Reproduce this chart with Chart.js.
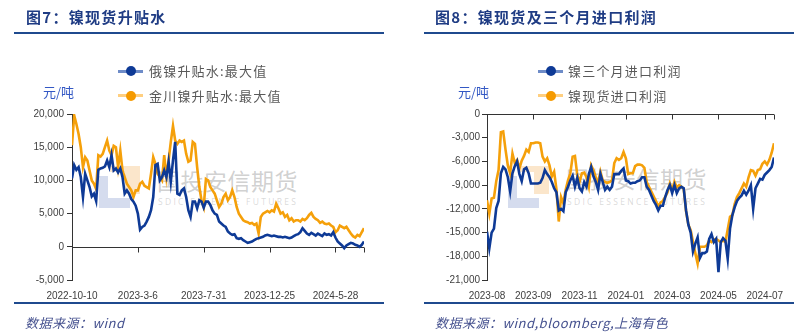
<!DOCTYPE html>
<html>
<head>
<meta charset="utf-8">
<script src="https://cdn.jsdelivr.net/npm/chart.js@4.4.1/dist/chart.umd.min.js"></script>
<style>
html,body{margin:0;padding:0;background:#fff;}
body{width:804px;height:335px;position:relative;overflow:hidden;font-family:"Noto Sans CJK SC",sans-serif;}
.abs{position:absolute;white-space:nowrap;}
.title{font-size:15px;font-weight:bold;color:#1f3c84;letter-spacing:1.3px;line-height:20px;}
.rule{height:1.5px;background:#1f4a8e;width:370px;}
.src{font-size:13px;font-style:italic;color:#44508e;letter-spacing:0.5px;line-height:18px;}
.unit{font-size:13px;color:#3358c4;line-height:16px;}
.leg{font-size:13px;color:#595959;letter-spacing:1.2px;line-height:16px;}
.mk{position:absolute;width:25px;height:3px;}
.dot{position:absolute;width:10px;height:10px;border-radius:50%;}
canvas{position:absolute;top:0;}
.wm{color:rgba(150,150,150,0.45);font-size:23px;letter-spacing:0.5px;line-height:28px;}
.wm2{color:rgba(160,160,160,0.4);font-size:8.5px;letter-spacing:2.3px;line-height:10px;font-family:"Open Sans",sans-serif;}
.lb{position:absolute;background:#d5dcee;}
.lo{position:absolute;background:#fbe6cb;}
</style>
</head>
<body>
<!-- watermark (under the charts) -->
<div class="lb" style="left:99px;top:176px;width:9px;height:32px"></div>
<div class="lb" style="left:99px;top:198px;width:31px;height:10px"></div>
<div class="lo" style="left:110px;top:166px;width:30px;height:6px"></div>
<div class="lo" style="left:125px;top:166px;width:15px;height:28px"></div>
<div class="abs wm" style="left:157px;top:166px">国投安信期货</div>
<div class="abs wm2" style="left:158px;top:197px">SDIC ESSENCE FUTURES</div>

<div class="lb" style="left:508px;top:176px;width:9px;height:32px"></div>
<div class="lb" style="left:508px;top:198px;width:31px;height:10px"></div>
<div class="lo" style="left:519px;top:166px;width:30px;height:6px"></div>
<div class="lo" style="left:534px;top:166px;width:15px;height:28px"></div>
<div class="abs wm" style="left:566px;top:164px">国投安信期货</div>
<div class="abs wm2" style="left:567px;top:197px">SDIC ESSENCE FUTURES</div>

<canvas id="c1" width="400" height="335" style="left:0px"></canvas>
<canvas id="c2" width="404" height="335" style="left:400px"></canvas>

<!-- left panel texts -->
<div class="abs title" style="left:26px;top:7px">图7：镍现货升贴水</div>
<div class="abs rule" style="left:14px;top:32px"></div>
<div class="abs rule" style="left:14px;top:302px"></div>
<div class="abs src" style="left:25px;top:314px">数据来源：wind</div>
<div class="abs unit" style="left:43px;top:84px">元/吨</div>
<div class="mk" style="left:118px;top:69.5px;background:#6e8cc8"></div>
<div class="dot" style="left:125.5px;top:66px;background:#0e3a96"></div>
<div class="abs leg" style="left:149px;top:63px">俄镍升贴水:最大值</div>
<div class="mk" style="left:118px;top:94px;background:#ffcf80"></div>
<div class="dot" style="left:125.5px;top:90.5px;background:#f59a00"></div>
<div class="abs leg" style="left:149px;top:87.5px">金川镍升贴水:最大值</div>

<!-- right panel texts -->
<div class="abs title" style="left:435px;top:7px">图8：镍现货及三个月进口利润</div>
<div class="abs rule" style="left:424px;top:32px"></div>
<div class="abs rule" style="left:424px;top:302px"></div>
<div class="abs src" style="left:435px;top:314px">数据来源：wind,bloomberg,上海有色</div>
<div class="abs unit" style="left:458px;top:84px">元/吨</div>
<div class="mk" style="left:538px;top:69.5px;background:#6e8cc8"></div>
<div class="dot" style="left:545.7px;top:66px;background:#0e3a96"></div>
<div class="abs leg" style="left:568px;top:63px">镍三个月进口利润</div>
<div class="mk" style="left:538px;top:94px;background:#ffcf80"></div>
<div class="dot" style="left:545.7px;top:90.5px;background:#f59a00"></div>
<div class="abs leg" style="left:568px;top:87.5px">镍现货进口利润</div>

<script>
// ---------- Figure 7: nickel spot premium/discount (yuan/t), sampled every ~3.3 trading days ----------
const fig7TickLabels = ['2022-10-10','2023-3-6','2023-7-31','2023-12-25','2024-5-28',''];
const fig7TickIdx = [0,30,60,90,120,133];
const ruNiPremium = [
 10300,12300,11600,12000,10500,7500,11000,10000,9000,7600,
 8000,6900,11600,11800,11900,12100,13000,12000,13800,11500,
 11800,11200,11800,10500,8000,8500,8000,7200,6800,6200,
 5000,2600,3000,3200,3800,4500,5500,7500,12300,12500,
 10000,10500,11500,10500,12800,9800,13000,15800,8000,7800,
 8500,8800,7500,5500,4500,6800,6800,5800,7000,6800,
 5900,6800,6800,6300,5500,5000,4800,3800,3500,3200,
 3000,2300,2000,1800,1900,1300,1200,1300,1000,800,
 600,700,800,1000,1200,1300,1400,1500,1700,1800,
 1700,1600,1700,1600,1500,1500,1400,1500,1400,1300,
 1400,1600,1800,1900,2200,2800,2400,2000,1800,2100,
 1900,1700,2000,1800,1600,2000,1800,1900,1700,2200,
 1400,800,500,200,-200,200,400,600,500,300,
 200,0,300,800];
const jcNiPremium = [
 15300,19800,18500,17000,15000,12000,13500,13000,11500,10000,
 9500,8700,13800,13600,14000,15000,16000,14500,13800,15200,
 15000,12000,14500,11500,10500,9500,9000,8500,7500,8500,
 8500,9500,9800,9200,9000,8800,11000,13500,12500,11000,
 10500,10000,13800,10500,13000,15800,18200,16000,15500,16000,
 15800,16000,14000,12800,13000,15800,15500,12000,9000,7000,
 6000,10200,10000,9000,8500,8000,7000,6000,6500,7500,
 8000,7000,7500,8500,7500,6000,5000,4500,4000,3800,
 3700,3500,3600,3300,3500,2000,4500,5000,5200,5400,
 5200,5500,5300,6500,5800,5000,5200,4500,4800,4000,
 4300,3800,4000,4000,3800,4200,4000,4300,4800,5100,
 4500,4200,4000,3600,3800,3500,3400,3500,3200,3000,
 2200,2500,3200,3000,2800,3000,2500,2000,1600,1400,
 1800,1600,2200,2800];

// ---------- Figure 8: nickel import profit (yuan/t), sampled every ~2 trading days ----------
const fig8TickLabels = ['2023-08','2023-09','2023-11','2024-01','2024-03','2024-05','2024-07',''];
const fig8TickIdx = [0,20,40,60,80,100,120,124];
const threeMonthProfit = [
 -14900,-17000,-15000,-14500,-11900,-11000,-7500,-6700,-7000,-8000,
 -9800,-7500,-6600,-6000,-7600,-8500,-7000,-6800,-7500,-8800,
 -8800,-8800,-8800,-8700,-8100,-7100,-7600,-8000,-8600,-9400,
 -9900,-12200,-12000,-12300,-9900,-9200,-8400,-7800,-9200,-8100,
 -9400,-9800,-8600,-9200,-7600,-6700,-7900,-8600,-9600,-7600,
 -8600,-9600,-9200,-9600,-9200,-7600,-7600,-7600,-7200,-6900,
 -8400,-8500,-8800,-8700,-8700,-8500,-8400,-8000,-8000,-9200,
 -9600,-10300,-11000,-11500,-12200,-11600,-11600,-10500,-9600,-9000,
 -10000,-9000,-10000,-9400,-9200,-9400,-12200,-14000,-15000,-17400,
 -16400,-15600,-18200,-17600,-17600,-17400,-15800,-15200,-16200,-15800,
 -20000,-16200,-15700,-16000,-18300,-14500,-12800,-11800,-11000,-10600,
 -10300,-9700,-10200,-9700,-9000,-12000,-9400,-8800,-8200,-8300,
 -7700,-7400,-7100,-6700,-5500];
const spotProfit = [
 -10900,-12600,-10700,-10600,-8500,-7100,-2300,-2200,-4500,-6500,
 -7500,-5000,-6200,-5800,-6900,-5900,-5300,-4500,-4800,-3700,
 -3700,-3600,-3600,-3700,-5400,-6000,-5600,-6500,-7900,-7300,
 -9500,-13600,-10500,-11300,-9600,-8400,-7500,-5400,-5300,-7700,
 -8600,-7500,-7400,-8000,-9200,-6500,-7100,-8000,-8800,-7300,
 -8400,-8600,-8700,-8600,-8400,-6200,-5600,-5800,-5600,-4800,
 -5600,-7600,-7500,-7500,-6600,-6400,-6400,-6500,-6800,-8600,
 -9200,-9800,-10400,-11000,-11700,-11200,-11000,-10500,-9900,-8800,
 -9600,-8600,-9300,-9000,-9200,-9500,-12300,-14000,-14700,-16200,
 -17600,-18900,-16800,-16800,-16800,-16600,-16000,-16200,-15900,-15800,
 -16000,-16200,-16000,-16200,-14600,-13000,-12800,-11400,-10500,-10000,
 -9400,-8800,-9200,-8000,-7100,-7200,-7800,-7100,-7000,-6300,
 -6000,-6400,-5800,-4900,-3700];

const BLUE = '#0e3a96', ORANGE = '#f5a00a';
const AXIS = '#333333', TICKTXT = '#404040';

function pts(arr){ return arr.map((v,i)=>({x:i,y:v})); }

// x-axis line drawn at value 0 with downward tick marks
const zeroAxis = {
  id:'zeroAxis',
  beforeDatasetsDraw(chart){
    const {ctx, chartArea:a, scales:{x,y}} = chart;
    const py = Math.round(y.getPixelForValue(0)) + 0.5;
    ctx.save();
    ctx.strokeStyle = AXIS; ctx.lineWidth = 1;
    ctx.beginPath();
    ctx.moveTo(a.left, py); ctx.lineTo(a.right, py);
    x.ticks.forEach(t=>{
      const px = Math.round(x.getPixelForValue(t.value)) + 0.5;
      ctx.moveTo(px, py); ctx.lineTo(px, py + 5);
    });
    ctx.stroke();
    ctx.restore();
  }
};

function makeChart(id, cfg){
  return new Chart(document.getElementById(id), {
    type:'line',
    data:{datasets:[
      {label:cfg.names[0], data:pts(cfg.s1), borderColor:BLUE, borderWidth:2.6, pointRadius:0, tension:0},
      {label:cfg.names[1], data:pts(cfg.s2), borderColor:ORANGE, borderWidth:2.6, pointRadius:0, tension:0}
    ]},
    options:{
      responsive:false, animation:false, devicePixelRatio:1,
      layout:{padding:{left:0, right:cfg.padRight, top:114, bottom:0}},
      plugins:{legend:{display:false}, tooltip:{enabled:false}},
      scales:{
        x:{
          type:'linear', min:0, max:cfg.tickIdx[cfg.tickIdx.length-1],
          afterBuildTicks:s=>{ s.ticks = cfg.tickIdx.map(v=>({value:v})); },
          afterFit:s=>{ s.height = 55; },
          grid:{display:false}, border:{display:false},
          ticks:{autoSkip:false, maxRotation:0, minRotation:0, padding:2, color:TICKTXT,
            font:{family:'"Liberation Sans", Arial, sans-serif', size:10},
            callback:(v)=>{ const k = cfg.tickIdx.indexOf(v); return k>=0 ? cfg.tickLabels[k] : ''; }}
        },
        y:{
          min:cfg.yMin, max:cfg.yMax,
          afterFit:s=>{ s.width = cfg.yWidth; },
          grid:{drawOnChartArea:false, drawTicks:true, tickLength:5, tickColor:AXIS, color:AXIS},
          border:{display:true, color:AXIS, width:1},
          ticks:{stepSize:cfg.step, padding:cfg.labPad, color:TICKTXT,
            font:{family:'"Liberation Sans", Arial, sans-serif', size:10},
            callback:v=>Number(v).toLocaleString('en-US')}
        }
      }
    },
    plugins:[zeroAxis]
  });
}

makeChart('c1', {names:['俄镍升贴水:最大值','金川镍升贴水:最大值'], s1:ruNiPremium, s2:jcNiPremium,
  tickIdx:fig7TickIdx, tickLabels:fig7TickLabels, yMin:-5000, yMax:20000, step:5000,
  padRight:36, yWidth:72, labPad:3});
makeChart('c2', {names:['镍三个月进口利润','镍现货进口利润'], s1:threeMonthProfit, s2:spotProfit,
  tickIdx:fig8TickIdx, tickLabels:fig8TickLabels, yMin:-21000, yMax:0, step:3000,
  padRight:30, yWidth:87, labPad:2});
</script>
</body>
</html>
